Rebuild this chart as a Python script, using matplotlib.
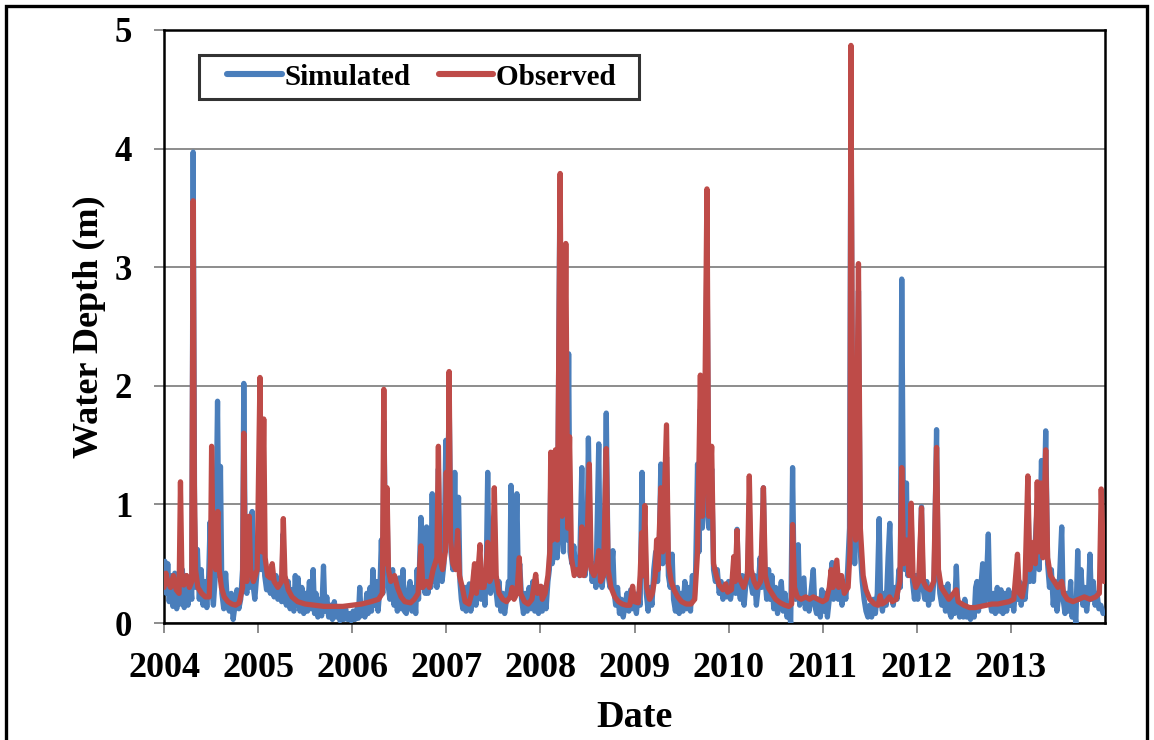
import matplotlib
matplotlib.use("Agg")
import matplotlib.pyplot as plt
from matplotlib.patches import Rectangle
from matplotlib.lines import Line2D
from matplotlib.legend_handler import HandlerLine2D

# (decimal year, water depth m)
obs_pts = [
    (2004.000, 0.30), (2004.020, 0.42), (2004.040, 0.35), (2004.070, 0.30), (2004.100, 0.40),
    (2004.130, 0.28), (2004.160, 0.25), (2004.175, 1.19), (2004.190, 0.40), (2004.210, 0.32),
    (2004.240, 0.40), (2004.270, 0.30), (2004.295, 0.35), (2004.310, 3.56), (2004.322, 1.20),
    (2004.335, 0.45), (2004.360, 0.30), (2004.400, 0.25), (2004.440, 0.22), (2004.480, 0.22),
    (2004.495, 0.55), (2004.506, 1.49), (2004.520, 0.60), (2004.550, 0.45), (2004.572, 0.94),
    (2004.587, 0.45), (2004.610, 0.30), (2004.640, 0.22), (2004.680, 0.18), (2004.720, 0.16),
    (2004.760, 0.15), (2004.800, 0.17), (2004.835, 0.30), (2004.848, 1.60), (2004.862, 0.50),
    (2004.880, 0.35), (2004.905, 0.90), (2004.920, 0.45), (2004.950, 0.35), (2004.990, 0.45),
    (2005.020, 2.07), (2005.040, 0.60), (2005.060, 1.72), (2005.075, 0.55), (2005.100, 0.40),
    (2005.130, 0.38), (2005.150, 0.50), (2005.170, 0.35), (2005.210, 0.30), (2005.250, 0.35),
    (2005.268, 0.88), (2005.285, 0.40), (2005.320, 0.28), (2005.360, 0.22), (2005.420, 0.18),
    (2005.500, 0.16), (2005.600, 0.15), (2005.700, 0.14), (2005.800, 0.14), (2005.900, 0.14),
    (2006.000, 0.15), (2006.100, 0.16), (2006.200, 0.18), (2006.280, 0.20), (2006.320, 0.25),
    (2006.336, 1.97), (2006.350, 0.50), (2006.370, 1.14), (2006.385, 0.45), (2006.410, 0.35),
    (2006.450, 0.40), (2006.480, 0.30), (2006.520, 0.22), (2006.560, 0.18), (2006.620, 0.17),
    (2006.660, 0.20), (2006.700, 0.25), (2006.730, 0.65), (2006.750, 0.30), (2006.790, 0.35),
    (2006.820, 0.30), (2006.860, 0.45), (2006.900, 0.55), (2006.916, 1.49), (2006.930, 0.55),
    (2006.960, 0.45), (2006.990, 0.60), (2007.000, 1.27), (2007.015, 0.70), (2007.030, 2.12),
    (2007.045, 0.70), (2007.070, 0.50), (2007.100, 0.45), (2007.120, 0.78), (2007.140, 0.40),
    (2007.170, 0.30), (2007.200, 0.18), (2007.240, 0.16), (2007.270, 0.25), (2007.300, 0.50),
    (2007.320, 0.25), (2007.358, 0.66), (2007.370, 0.30), (2007.400, 0.30), (2007.420, 0.45),
    (2007.440, 0.68), (2007.460, 0.35), (2007.490, 0.40), (2007.510, 1.14), (2007.530, 0.40),
    (2007.560, 0.25), (2007.600, 0.20), (2007.640, 0.18), (2007.680, 0.22), (2007.700, 0.30),
    (2007.720, 0.20), (2007.750, 0.25), (2007.776, 0.55), (2007.790, 0.25), (2007.830, 0.18),
    (2007.870, 0.16), (2007.910, 0.20), (2007.950, 0.41), (2007.970, 0.25), (2008.005, 0.31),
    (2008.020, 0.20), (2008.050, 0.25), (2008.080, 0.40), (2008.100, 0.60), (2008.110, 1.44),
    (2008.130, 0.70), (2008.150, 0.80), (2008.160, 1.46), (2008.180, 0.70), (2008.210, 3.79),
    (2008.230, 0.90), (2008.250, 1.30), (2008.270, 3.20), (2008.290, 0.80), (2008.310, 1.57),
    (2008.330, 0.55), (2008.360, 0.40), (2008.390, 0.45), (2008.420, 0.40), (2008.440, 0.81),
    (2008.460, 0.40), (2008.490, 0.50), (2008.520, 1.34), (2008.540, 0.45), (2008.570, 0.40),
    (2008.600, 0.50), (2008.620, 0.61), (2008.640, 0.35), (2008.670, 0.40), (2008.700, 1.47),
    (2008.720, 0.45), (2008.750, 0.30), (2008.790, 0.22), (2008.830, 0.18), (2008.870, 0.16),
    (2008.910, 0.15), (2008.950, 0.15), (2008.980, 0.31), (2009.000, 0.18), (2009.040, 0.17),
    (2009.060, 0.40), (2009.077, 0.76), (2009.090, 0.40), (2009.110, 0.99), (2009.130, 0.30),
    (2009.160, 0.20), (2009.190, 0.25), (2009.220, 0.40), (2009.235, 0.70), (2009.250, 0.45),
    (2009.280, 1.14), (2009.300, 0.60), (2009.340, 1.67), (2009.360, 0.50), (2009.390, 0.35),
    (2009.420, 0.28), (2009.460, 0.22), (2009.500, 0.18), (2009.550, 0.16), (2009.600, 0.16),
    (2009.640, 0.20), (2009.670, 0.60), (2009.700, 2.09), (2009.720, 0.90), (2009.740, 1.20),
    (2009.770, 3.66), (2009.790, 0.90), (2009.820, 1.49), (2009.840, 0.50), (2009.870, 0.40),
    (2009.900, 0.32), (2009.940, 0.28), (2009.970, 0.33), (2009.990, 0.26), (2010.030, 0.28),
    (2010.055, 0.56), (2010.070, 0.35), (2010.090, 0.78), (2010.105, 0.40), (2010.130, 0.35),
    (2010.160, 0.30), (2010.200, 0.40), (2010.220, 1.24), (2010.240, 0.45), (2010.270, 0.35),
    (2010.300, 0.30), (2010.340, 0.35), (2010.370, 1.14), (2010.390, 0.40), (2010.420, 0.30),
    (2010.460, 0.25), (2010.500, 0.20), (2010.550, 0.17), (2010.600, 0.15), (2010.640, 0.14),
    (2010.670, 0.16), (2010.680, 0.83), (2010.700, 0.30), (2010.730, 0.22), (2010.770, 0.20),
    (2010.820, 0.22), (2010.860, 0.20), (2010.900, 0.22), (2010.950, 0.20), (2011.000, 0.18),
    (2011.040, 0.20), (2011.070, 0.30), (2011.090, 0.45), (2011.110, 0.30), (2011.150, 0.53),
    (2011.170, 0.30), (2011.200, 0.40), (2011.230, 0.25), (2011.270, 0.30), (2011.290, 0.60),
    (2011.300, 4.87), (2011.320, 1.00), (2011.350, 0.70), (2011.380, 3.03), (2011.400, 0.80),
    (2011.430, 0.40), (2011.460, 0.28), (2011.500, 0.20), (2011.550, 0.16), (2011.590, 0.15),
    (2011.610, 0.23), (2011.630, 0.16), (2011.670, 0.18), (2011.710, 0.22), (2011.740, 0.18),
    (2011.780, 0.20), (2011.820, 0.35), (2011.840, 1.31), (2011.860, 0.50), (2011.890, 0.70),
    (2011.920, 0.40), (2011.940, 1.01), (2011.960, 0.40), (2011.990, 0.30), (2012.020, 0.35),
    (2012.050, 0.97), (2012.070, 0.35), (2012.100, 0.30), (2012.140, 0.28), (2012.180, 0.35),
    (2012.210, 1.48), (2012.230, 0.45), (2012.260, 0.30), (2012.300, 0.25), (2012.340, 0.20),
    (2012.420, 0.28), (2012.440, 0.18), (2012.500, 0.15), (2012.560, 0.13), (2012.620, 0.13),
    (2012.680, 0.14), (2012.740, 0.15), (2012.800, 0.16), (2012.860, 0.16), (2012.920, 0.17),
    (2012.980, 0.18), (2013.030, 0.20), (2013.070, 0.58), (2013.090, 0.25), (2013.120, 0.22),
    (2013.150, 0.35), (2013.180, 1.24), (2013.200, 0.45), (2013.240, 0.68), (2013.260, 0.50),
    (2013.280, 1.19), (2013.300, 0.60), (2013.320, 1.18), (2013.340, 0.55), (2013.370, 1.46),
    (2013.390, 0.55), (2013.420, 0.40), (2013.460, 0.35), (2013.500, 0.30), (2013.540, 0.35),
    (2013.560, 0.25), (2013.600, 0.20), (2013.660, 0.18), (2013.720, 0.20), (2013.780, 0.22),
    (2013.840, 0.20), (2013.900, 0.22), (2013.940, 0.25), (2013.960, 1.13), (2013.990, 0.35),
]

sim_pts = [
    (2004.000, 0.30), (2004.010, 0.52), (2004.025, 0.25), (2004.040, 0.50), (2004.055, 0.18),
    (2004.075, 0.40), (2004.095, 0.14), (2004.115, 0.42), (2004.135, 0.12), (2004.155, 0.35),
    (2004.175, 0.16), (2004.195, 0.45), (2004.215, 0.13), (2004.235, 0.40), (2004.255, 0.15),
    (2004.275, 0.38), (2004.295, 0.20), (2004.310, 3.97), (2004.325, 0.90), (2004.340, 0.30),
    (2004.355, 0.62), (2004.375, 0.20), (2004.395, 0.45), (2004.415, 0.15), (2004.435, 0.35),
    (2004.455, 0.13), (2004.475, 0.40), (2004.490, 0.85), (2004.505, 0.30), (2004.525, 0.15),
    (2004.545, 0.40), (2004.569, 1.87), (2004.585, 0.40), (2004.600, 1.32), (2004.615, 0.25),
    (2004.635, 0.12), (2004.655, 0.42), (2004.675, 0.15), (2004.695, 0.10), (2004.715, 0.25),
    (2004.735, 0.03), (2004.755, 0.15), (2004.775, 0.28), (2004.795, 0.12), (2004.815, 0.20),
    (2004.835, 0.45), (2004.848, 2.02), (2004.865, 0.40), (2004.880, 0.25), (2004.895, 0.78),
    (2004.910, 0.30), (2004.937, 0.94), (2004.950, 0.30), (2004.965, 0.20), (2004.985, 0.40),
    (2005.010, 0.60), (2005.020, 1.60), (2005.035, 0.45), (2005.055, 1.20), (2005.070, 0.40),
    (2005.090, 0.28), (2005.110, 0.45), (2005.130, 0.25), (2005.150, 0.42), (2005.170, 0.22),
    (2005.190, 0.40), (2005.210, 0.20), (2005.230, 0.35), (2005.250, 0.18), (2005.265, 0.75),
    (2005.280, 0.30), (2005.300, 0.15), (2005.320, 0.35), (2005.340, 0.12), (2005.360, 0.28),
    (2005.380, 0.10), (2005.395, 0.40), (2005.410, 0.15), (2005.425, 0.38), (2005.445, 0.10),
    (2005.465, 0.30), (2005.485, 0.08), (2005.505, 0.25), (2005.525, 0.10), (2005.545, 0.35),
    (2005.565, 0.12), (2005.585, 0.45), (2005.600, 0.08), (2005.615, 0.25), (2005.635, 0.05),
    (2005.655, 0.20), (2005.675, 0.06), (2005.695, 0.48), (2005.710, 0.10), (2005.730, 0.22),
    (2005.750, 0.05), (2005.770, 0.15), (2005.790, 0.03), (2005.810, 0.18), (2005.830, 0.05),
    (2005.850, 0.12), (2005.870, 0.02), (2005.890, 0.10), (2005.910, 0.03), (2005.930, 0.12),
    (2005.950, 0.03), (2005.970, 0.08), (2005.990, 0.02),
    (2006.010, 0.10), (2006.030, 0.03), (2006.050, 0.12), (2006.065, 0.04), (2006.080, 0.30),
    (2006.095, 0.06), (2006.115, 0.15), (2006.135, 0.05), (2006.155, 0.25), (2006.170, 0.08),
    (2006.190, 0.30), (2006.205, 0.10), (2006.220, 0.45), (2006.240, 0.15), (2006.255, 0.35),
    (2006.275, 0.10), (2006.295, 0.30), (2006.310, 0.70), (2006.325, 0.25), (2006.338, 1.70),
    (2006.355, 0.50), (2006.370, 1.00), (2006.385, 0.30), (2006.400, 0.20), (2006.415, 0.40),
    (2006.430, 0.45), (2006.445, 0.15), (2006.460, 0.35), (2006.480, 0.10), (2006.500, 0.38),
    (2006.520, 0.12), (2006.540, 0.45), (2006.555, 0.10), (2006.575, 0.08), (2006.595, 0.25),
    (2006.615, 0.35), (2006.635, 0.10), (2006.655, 0.30), (2006.675, 0.08), (2006.690, 0.45),
    (2006.705, 0.20), (2006.730, 0.89), (2006.745, 0.30), (2006.760, 0.50), (2006.775, 0.25),
    (2006.790, 0.81), (2006.805, 0.25), (2006.820, 0.50), (2006.835, 0.30), (2006.850, 1.09),
    (2006.865, 0.35), (2006.885, 0.50), (2006.900, 0.30), (2006.916, 1.30), (2006.935, 0.45),
    (2006.955, 0.35), (2006.975, 0.50), (2006.995, 1.54), (2007.010, 0.80), (2007.030, 1.90),
    (2007.050, 0.60), (2007.070, 0.45), (2007.090, 1.27), (2007.105, 0.50), (2007.130, 1.06),
    (2007.145, 0.35), (2007.160, 0.20), (2007.175, 0.12), (2007.195, 0.30), (2007.210, 0.10),
    (2007.230, 0.20), (2007.245, 0.33), (2007.260, 0.10), (2007.280, 0.25), (2007.300, 0.45),
    (2007.315, 0.15), (2007.335, 0.35), (2007.355, 0.55), (2007.370, 0.20), (2007.390, 0.40),
    (2007.410, 0.15), (2007.425, 0.45), (2007.440, 1.27), (2007.455, 0.40), (2007.470, 0.25),
    (2007.490, 0.35), (2007.510, 0.90), (2007.525, 0.30), (2007.545, 0.15), (2007.560, 0.35),
    (2007.580, 0.10), (2007.600, 0.25), (2007.620, 0.08), (2007.640, 0.20), (2007.660, 0.35),
    (2007.675, 0.25), (2007.687, 1.16), (2007.700, 0.40), (2007.715, 0.30), (2007.735, 0.50),
    (2007.750, 1.09), (2007.765, 0.35), (2007.780, 0.50), (2007.800, 0.20), (2007.820, 0.08),
    (2007.840, 0.25), (2007.860, 0.10), (2007.880, 0.30), (2007.900, 0.12), (2007.920, 0.35),
    (2007.940, 0.10), (2007.960, 0.30), (2007.980, 0.08),
    (2008.000, 0.25), (2008.020, 0.10), (2008.040, 0.30), (2008.060, 0.12), (2008.080, 0.35),
    (2008.095, 0.45), (2008.110, 1.20), (2008.125, 0.50), (2008.145, 0.60), (2008.160, 1.20),
    (2008.180, 0.55), (2008.205, 3.40), (2008.225, 0.80), (2008.245, 0.60), (2008.265, 2.60),
    (2008.285, 0.70), (2008.300, 2.27), (2008.315, 0.60), (2008.335, 0.50), (2008.355, 0.65),
    (2008.375, 0.45), (2008.395, 0.55), (2008.415, 0.40), (2008.440, 1.31), (2008.455, 0.50),
    (2008.475, 0.40), (2008.495, 0.60), (2008.510, 1.56), (2008.530, 0.60), (2008.550, 0.35),
    (2008.570, 0.50), (2008.590, 0.30), (2008.620, 1.51), (2008.635, 0.45), (2008.655, 0.30),
    (2008.675, 0.45), (2008.700, 1.77), (2008.720, 0.40), (2008.740, 0.30), (2008.770, 0.61),
    (2008.785, 0.25), (2008.800, 0.15), (2008.820, 0.30), (2008.840, 0.08), (2008.860, 0.20),
    (2008.880, 0.05), (2008.900, 0.15), (2008.920, 0.25), (2008.940, 0.10), (2008.960, 0.28),
    (2008.980, 0.12),
    (2009.000, 0.20), (2009.020, 0.08), (2009.040, 0.25), (2009.060, 0.15), (2009.080, 1.27),
    (2009.095, 0.40), (2009.110, 0.80), (2009.125, 0.25), (2009.145, 0.10), (2009.165, 0.30),
    (2009.185, 0.15), (2009.205, 0.45), (2009.225, 0.60), (2009.245, 0.35), (2009.265, 0.70),
    (2009.280, 1.34), (2009.300, 0.50), (2009.320, 0.80), (2009.340, 1.40), (2009.360, 0.40),
    (2009.380, 0.30), (2009.400, 0.58), (2009.415, 0.20), (2009.435, 0.10), (2009.455, 0.30),
    (2009.475, 0.08), (2009.495, 0.25), (2009.515, 0.10), (2009.535, 0.35), (2009.555, 0.12),
    (2009.575, 0.30), (2009.595, 0.10), (2009.615, 0.40), (2009.635, 0.20), (2009.650, 0.45),
    (2009.670, 1.34), (2009.685, 0.60), (2009.700, 1.80), (2009.720, 0.80), (2009.745, 1.00),
    (2009.770, 3.20), (2009.790, 0.80), (2009.820, 1.30), (2009.840, 0.45), (2009.860, 0.35),
    (2009.880, 0.45), (2009.900, 0.25), (2009.920, 0.35), (2009.940, 0.20), (2009.960, 0.30),
    (2009.980, 0.22),
    (2010.000, 0.35), (2010.020, 0.20), (2010.040, 0.30), (2010.060, 0.45), (2010.075, 0.25),
    (2010.090, 0.79), (2010.105, 0.30), (2010.125, 0.20), (2010.145, 0.40), (2010.165, 0.15),
    (2010.185, 0.35), (2010.205, 0.45), (2010.220, 1.00), (2010.235, 0.35), (2010.255, 0.25),
    (2010.275, 0.40), (2010.295, 0.15), (2010.315, 0.30), (2010.335, 0.55), (2010.350, 0.30),
    (2010.370, 1.14), (2010.385, 0.40), (2010.405, 0.20), (2010.425, 0.45), (2010.440, 0.20),
    (2010.460, 0.40), (2010.480, 0.12), (2010.500, 0.30), (2010.520, 0.08), (2010.540, 0.20),
    (2010.560, 0.35), (2010.580, 0.10), (2010.600, 0.25), (2010.620, 0.05), (2010.640, 0.10),
    (2010.660, 0.00), (2010.680, 1.31), (2010.695, 0.40), (2010.710, 0.20), (2010.740, 0.66),
    (2010.755, 0.15), (2010.775, 0.25), (2010.800, 0.38), (2010.815, 0.12), (2010.835, 0.20),
    (2010.855, 0.10), (2010.875, 0.25), (2010.900, 0.45), (2010.915, 0.15), (2010.935, 0.08),
    (2010.955, 0.20), (2010.975, 0.05), (2010.990, 0.28),
    (2011.010, 0.10), (2011.030, 0.25), (2011.050, 0.05), (2011.070, 0.20), (2011.085, 0.40),
    (2011.100, 0.51), (2011.115, 0.20), (2011.135, 0.35), (2011.150, 0.45), (2011.165, 0.20),
    (2011.185, 0.40), (2011.205, 0.15), (2011.225, 0.35), (2011.245, 0.20), (2011.265, 0.45),
    (2011.285, 0.80), (2011.300, 4.60), (2011.320, 1.00), (2011.340, 0.50), (2011.360, 1.27),
    (2011.380, 2.80), (2011.400, 0.60), (2011.420, 0.35), (2011.440, 0.20), (2011.460, 0.10),
    (2011.480, 0.05), (2011.500, 0.15), (2011.520, 0.05), (2011.540, 0.20), (2011.560, 0.08),
    (2011.580, 0.25), (2011.600, 0.88), (2011.615, 0.20), (2011.635, 0.10), (2011.655, 0.25),
    (2011.675, 0.15), (2011.695, 0.55), (2011.713, 0.84), (2011.730, 0.25), (2011.750, 0.15),
    (2011.770, 0.30), (2011.790, 0.20), (2011.810, 0.45), (2011.825, 0.30), (2011.840, 2.90),
    (2011.860, 0.60), (2011.875, 0.45), (2011.890, 1.18), (2011.905, 0.40), (2011.920, 0.60),
    (2011.940, 0.90), (2011.955, 0.35), (2011.975, 0.20), (2011.990, 0.40),
    (2012.010, 0.20), (2012.030, 0.45), (2012.050, 0.98), (2012.065, 0.30), (2012.085, 0.20),
    (2012.105, 0.35), (2012.125, 0.15), (2012.145, 0.30), (2012.165, 0.20), (2012.185, 0.40),
    (2012.210, 1.63), (2012.225, 0.50), (2012.245, 0.25), (2012.265, 0.15), (2012.285, 0.30),
    (2012.305, 0.10), (2012.330, 0.33), (2012.345, 0.10), (2012.365, 0.05), (2012.385, 0.20),
    (2012.400, 0.08), (2012.420, 0.48), (2012.435, 0.15), (2012.455, 0.05), (2012.475, 0.15),
    (2012.495, 0.05), (2012.510, 0.20), (2012.530, 0.05), (2012.550, 0.12), (2012.570, 0.03),
    (2012.590, 0.10), (2012.610, 0.05), (2012.625, 0.30), (2012.640, 0.35), (2012.655, 0.10),
    (2012.675, 0.25), (2012.700, 0.50), (2012.715, 0.15), (2012.735, 0.25), (2012.760, 0.75),
    (2012.775, 0.20), (2012.795, 0.10), (2012.815, 0.25), (2012.835, 0.08), (2012.855, 0.30),
    (2012.875, 0.10), (2012.895, 0.28), (2012.915, 0.08), (2012.935, 0.25), (2012.955, 0.10),
    (2012.975, 0.28), (2012.990, 0.15),
    (2013.010, 0.25), (2013.030, 0.10), (2013.050, 0.30), (2013.070, 0.20), (2013.090, 0.35),
    (2013.110, 0.15), (2013.130, 0.33), (2013.150, 0.20), (2013.170, 0.40), (2013.185, 0.90),
    (2013.200, 0.35), (2013.220, 0.55), (2013.240, 0.35), (2013.260, 0.70), (2013.280, 1.00),
    (2013.300, 0.45), (2013.325, 1.37), (2013.345, 0.60), (2013.370, 1.62), (2013.390, 0.50),
    (2013.410, 0.30), (2013.430, 0.45), (2013.450, 0.15), (2013.470, 0.35), (2013.490, 0.10),
    (2013.510, 0.25), (2013.540, 0.81), (2013.555, 0.20), (2013.575, 0.08), (2013.595, 0.25),
    (2013.615, 0.10), (2013.635, 0.35), (2013.650, 0.05), (2013.670, 0.15), (2013.690, 0.00),
    (2013.710, 0.61), (2013.725, 0.20), (2013.745, 0.45), (2013.765, 0.15), (2013.785, 0.30),
    (2013.805, 0.10), (2013.825, 0.25), (2013.840, 0.58), (2013.855, 0.20), (2013.875, 0.35),
    (2013.895, 0.15), (2013.915, 0.25), (2013.935, 0.12), (2013.955, 0.15), (2013.980, 0.08),
]

years = list(range(2004, 2014))
depth_ticks = [0, 1, 2, 3, 4, 5]

sim_t, sim_v = zip(*sim_pts)
obs_t, obs_v = zip(*obs_pts)

plt.rcParams['font.family'] = ['Liberation Serif', 'DejaVu Serif']
plt.rcParams['font.weight'] = 'bold'

W, H = 1154, 740
fig = plt.figure(figsize=(W / 100, H / 100), dpi=100)
ax = fig.add_axes([164 / W, 1 - 623 / H, (1105 - 164) / W, (623 - 30) / H])

# outer chart frame (bottom is cut off in the original)
fig.patches.append(Rectangle((6 / W, -0.02), (1147 - 6) / W, 1 - 6 / H + 0.02,
                             transform=fig.transFigure, fill=False,
                             edgecolor='black', linewidth=2.4))

lw = 3.8
ax.plot(sim_t, sim_v, color='#4a7ebb', lw=lw, label='Simulated',
        solid_joinstyle='round', solid_capstyle='round', zorder=3)
ax.plot(obs_t, obs_v, color='#be4b48', lw=lw, label='Observed\u00a0\u00a0',
        solid_joinstyle='round', solid_capstyle='round', zorder=4)

ax.set_xlim(2004, 2014)
ax.set_ylim(0, 5)
ax.set_xticks(years)
ax.set_xticklabels([str(y) for y in years])
ax.set_yticks(depth_ticks)
ax.yaxis.grid(True, color='#8c8c8c', lw=1.4)
ax.set_axisbelow(True)

for s in ax.spines.values():
    s.set_color('black')
    s.set_linewidth(1.8)
ax.tick_params(axis='both', direction='out', length=7, width=1.4, color='#8c8c8c')
ax.tick_params(axis='x', labelsize=26, pad=14)
ax.tick_params(axis='y', labelsize=25, pad=16)

ax.set_xlabel('Date', fontsize=27.5, fontweight='bold', labelpad=11)
ax.set_ylabel('Water Depth (m)', fontsize=26, fontweight='bold', labelpad=6)

leg = ax.legend(loc='upper left', bbox_to_anchor=(0.037, 0.958), ncol=2,
                frameon=True, fancybox=False, edgecolor='black', fontsize=21,
                handlelength=2.54, handletextpad=0.1, columnspacing=0.3,
                borderpad=0.3, borderaxespad=0,
                handler_map={Line2D: HandlerLine2D(xpad=0.66)})
leg.get_frame().set_linewidth(2.2)
for h in leg.get_lines():
    h.set_linewidth(4.4)

fig.savefig('out.png', dpi=100)
